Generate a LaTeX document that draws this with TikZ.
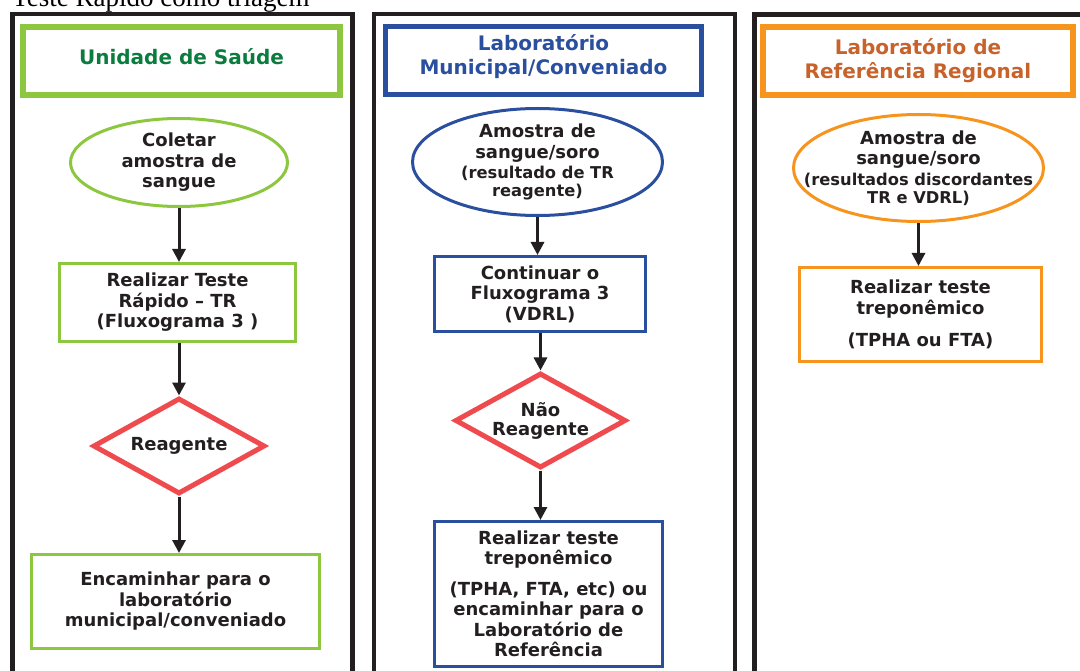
\documentclass[tikz,border=0pt]{standalone}
\usepackage{fontspec}
\setmainfont{DejaVu Sans}
\newfontfamily\serifttl{Liberation Serif}
\usetikzlibrary{shapes.geometric,arrows.meta}
\definecolor{verde}{HTML}{8DC63F}
\definecolor{verdeesc}{HTML}{0B7B3E}
\definecolor{azul}{HTML}{2A4F9E}
\definecolor{laranja}{HTML}{F7941D}
\definecolor{laranjaesc}{HTML}{C8622B}
\definecolor{vermelho}{HTML}{EF4A4D}
\definecolor{preto}{HTML}{231F20}
\newcommand{\pq}{\fontsize{16.3}{18}\selectfont}

\begin{document}
\begin{tikzpicture}[x=1pt,y=-1pt,
  coluna/.style={draw=preto,line width=4.5pt},
  cabec/.style={draw=#1,line width=5.5pt,align=center,
    font=\fontsize{20}{24}\selectfont\bfseries},
  passo/.style={draw=#1,line width=3pt,align=center,text=preto,
    font=\fontsize{18}{20.5}\selectfont\bfseries},
  inicio/.style={ellipse,draw=#1,line width=3pt},
  texto/.style={align=center,text=preto,font=\fontsize{18}{20.5}\selectfont\bfseries},
  decisao/.style={diamond,draw=vermelho,line width=5pt,aspect=1.8,inner sep=0pt,
    align=center,text=preto,font=\fontsize{18}{20.5}\selectfont\bfseries},
  seta/.style={draw=preto,line width=3pt,-{Triangle[length=13pt,width=13pt]}}]
  \useasboundingbox (0,0) rectangle (1080,671);
  \clip (0,0) rectangle (1080,671);

  \node[anchor=base west,inner sep=0pt,font=\serifttl\fontsize{27}{30}\selectfont] (titulo) at (12,7) {Teste Rápido como triagem};

  \draw[coluna] (12.5,14) rectangle (352.5,700);
  \draw[coluna] (374,14) rectangle (735,700);
  \draw[coluna] (754.5,14.5) rectangle (1100,700);

  \node[cabec=verde,text=verdeesc,text depth=8pt,minimum width=317,minimum height=68] (us) at (181.5,61) {Unidade de Saúde};
  \node[cabec=azul,text=azul,text depth=11pt,minimum width=316,minimum height=68] (lm) at (543.5,60.5) {Laboratório\\Municipal/Conveniado};
  \node[cabec=laranja,text=laranjaesc,minimum width=310,minimum height=68] (lr) at (918,61) {Laboratório de\\Referência Regional};

  \node[inicio=verde,minimum width=217,minimum height=88] (coleta) at (179,162.5) {};
  \node[texto] (coletat) at (coleta) {Coletar\\amostra de\\sangue};
  \node[passo=verde,minimum width=236,minimum height=78] (teste) at (177.5,302.5) {Realizar Teste\\Rápido -- TR\\(Fluxograma 3 )};
  \node[decisao,minimum width=172,minimum height=96] (reag) at (179,446) {Reagente};
  \node[passo=verde,minimum width=288,minimum height=94] (enc) at (175.5,601.5) {Encaminhar para o\\laboratório\\municipal/conveniado};

  \node[inicio=azul,minimum width=250,minimum height=107] (amostra) at (537.5,162) {};
  \node[texto] (amostrat) at (amostra) {Amostra de\\sangue/soro\\{\pq(resultado de TR}\\[-2.5pt]{\pq reagente)}};
  \node[passo=azul,minimum width=211,minimum height=75] (vdrl) at (540,294) {Continuar o\\Fluxograma 3\\(VDRL)};
  \node[decisao,minimum width=171,minimum height=95] (naoreag) at (540.5,420.5) {Não\\[-1.5pt]Reagente};
  \node[passo=azul,minimum width=228,minimum height=145] (trep) at (548.5,594) {Realizar teste\\treponêmico\\[10pt](TPHA, FTA, etc) ou\\encaminhar para o\\Laboratório de\\Referência};

  \node[inicio=laranja,minimum width=250,minimum height=107] (amostrar) at (918.5,168) {};
  \node[texto] (amostrart) at (amostrar) {Amostra de\\sangue/soro\\{\pq(resultados discordantes}\\[-2.5pt]{\pq TR e VDRL)}};
  \node[passo=laranja,minimum width=242,minimum height=94] (trepr) at (920.5,314.5) {Realizar teste\\treponêmico\\[12pt](TPHA ou FTA)};

  \draw[seta] (coleta.south) -- (coleta.south |- teste.north);
  \draw[seta] (reag.north |- teste.south) -- (reag.north);
  \draw[seta] (reag.south) -- (reag.south |- enc.north);
  \draw[seta] (amostra.south) -- (amostra.south |- vdrl.north);
  \draw[seta] (naoreag.north |- vdrl.south) -- (naoreag.north);
  \draw[seta] (naoreag.south) -- (naoreag.south |- trep.north);
  \draw[seta] (amostrar.south) -- (amostrar.south |- trepr.north);
\end{tikzpicture}
\end{document}
